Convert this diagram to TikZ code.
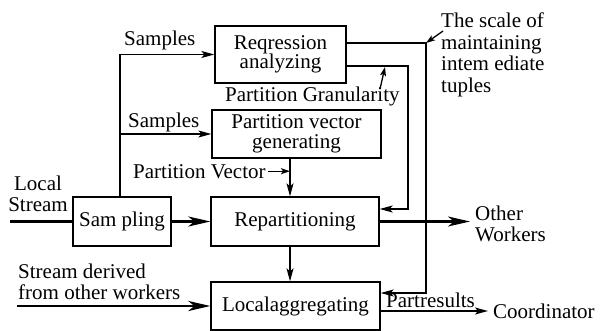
\documentclass[tikz,border=0pt]{standalone}
\usepackage{fontspec}
\setmainfont{Liberation Serif}
\usetikzlibrary{arrows.meta}
\begin{document}
\begin{tikzpicture}[x=1pt,y=-1pt,
  box/.style={draw,line width=1.3pt,inner sep=0pt,align=center,font=\fontsize{21}{19.5}\selectfont},
  lbl/.style={inner sep=0pt,font=\fontsize{21}{21.5}\selectfont},
  ln/.style={line width=1.3pt},
  thk/.style={line width=2.5pt},
  sa/.style={-{Stealth[length=13pt,width=7pt,inset=3pt]}},
  ta/.style={-{Stealth[length=9pt,width=6pt,inset=2pt]}},
  ba/.style={-{Stealth[length=22pt,width=10pt,inset=6pt]}},
]
\useasboundingbox (0,0) rectangle (601,331);
% boxes
\node[box,minimum width=131,minimum height=57] (reg) at (280.5,54.5) {Reqression\\analyzing};
\node[box,minimum width=169,minimum height=48] (pvg) at (296.5,134) {Partition vector\\generating};
\node[box,minimum width=98,minimum height=49] (samp) at (122,221.5) {Sam pling};
\node[box,minimum width=168,minimum height=49] (rep) at (295,221.5) {Repartitioning};
\node[box,minimum width=169,minimum height=48] (loc) at (295.5,306) {Localaggregating};
% labels
\node[lbl,anchor=base west] (s1) at (124,46) {Samples};
\node[lbl,anchor=base west] (s2) at (128,128) {Samples};
\node[lbl,anchor=base west] (pg) at (225,102) {Partition Granularity};
\node[lbl,anchor=base west] (pvl) at (133,178) {Partition Vector};
\node[lbl,anchor=north west,align=left] (sc) at (441,13) {The scale of\\maintaining\\intem ediate\\tuples};
\node[lbl,anchor=north,align=center] (lsl) at (38,175.5) {Local\\Stream};
\node[lbl,anchor=north west,align=left] (sdl) at (18,263.5) {Stream derived\\from other workers};
\node[lbl,anchor=north west,align=left] (owl) at (475,205.5) {Other\\Workers};
\node[lbl,anchor=base west] (prl) at (386,307.5) {Partresults};
\node[lbl,anchor=base west] (col) at (493,318) {Coordinator};
% coordinates
\coordinate (t) at ([xshift=-2pt]samp.north);
\coordinate (vx) at (290,158);
\coordinate (c1) at (426,43);
\coordinate (c2) at (408,66);
\coordinate (pga) at (380,89);
\coordinate (pgt) at (385,67);
\coordinate (sca) at (443,31);
\coordinate (ls) at (10,221.5);
\coordinate (sd) at (17,306);
\coordinate (ow) at (470,221.5);
\coordinate (co) at (488,311);
% connectors
\draw[ln,sa] (t) |- (reg.west);
\draw[ln,sa] (t |- pvg.west) -- (pvg.west);
\draw[ln,sa] (pvg.south -| vx) -- (rep.north -| vx);
\draw[ln,sa] (rep.south -| vx) -- (loc.north -| vx);
\draw[ln,ta] ([xshift=2pt]pvl.east) -- (pvl.east -| vx);
\draw[thk] (ls) -- (samp.west);
\draw[thk,ba] (samp.east) -- (rep.west);
\draw[thk,ba] (sd) -- (loc.west);
\draw[thk,ba] (rep.east) -- (ow);
\draw[ln,sa] ([yshift=11.5pt]reg.east) -| (c1) |- ([yshift=13pt]loc.east);
\draw[ln,sa] ([yshift=-11.5pt]reg.east) -| (c2) |- ([yshift=12.5pt]rep.east);
\draw[ln,ta] (pga) -- (pgt);
\draw[ln,ta] (sca) -- (c1);
\draw[ln,sa] (loc.east |- co) -- (co);
\end{tikzpicture}
\end{document}
